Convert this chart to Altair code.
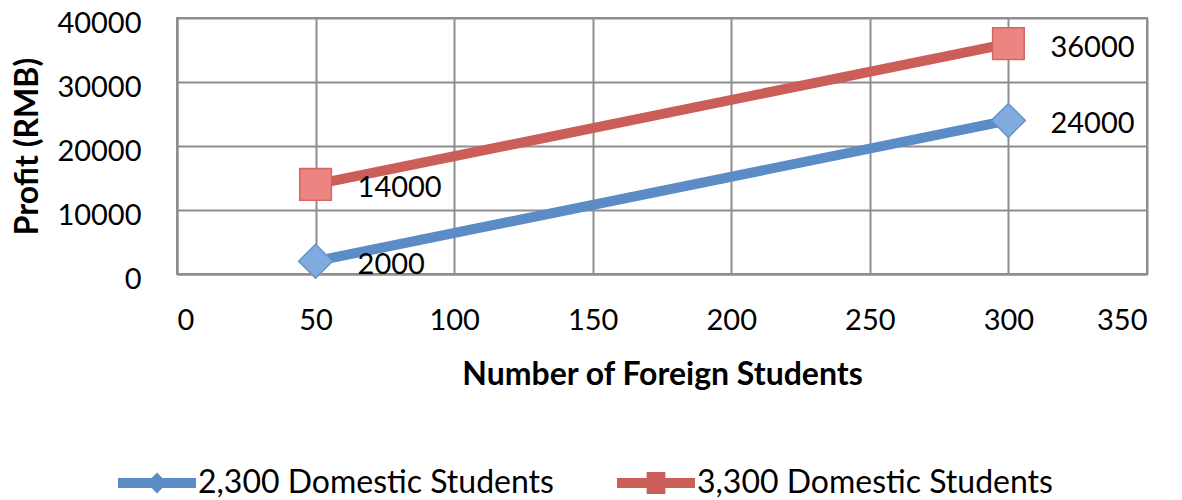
import altair as alt
import pandas as pd

# Profit for two intake sizes of domestic students
foreign_students = [50, 300]
profit_2300 = [2000, 24000]
profit_3300 = [14000, 36000]
series_names = ["2,300 Domestic Students", "3,300 Domestic Students"]

x_ticks = [0, 50, 100, 150, 200, 250, 300, 350]
y_ticks = [0, 10000, 20000, 30000, 40000]

line_colors = ["#5B8CC6", "#CC5E5A"]
marker_fills = ["#80ABDF", "#EC8582"]
marker_strokes = ["#6794CB", "#D56662"]
marker_shapes = ["diamond", "square"]
marker_sizes = [1150, 1000]

# legend symbols: a thick line segment with the series marker on it
legend_paths = [
    "M-1,-0.13H1V0.13H-1Z M0,-0.27L0.26,0L0,0.27L-0.26,0Z",
    "M-1,-0.13H1V0.13H-1Z M-0.24,-0.28H0.24V0.28H-0.24Z",
]

rows = []
for name, values in zip(series_names, [profit_2300, profit_3300]):
    for xv, yv in zip(foreign_students, values):
        rows.append({"Series": name, "Foreign": xv, "Profit": yv, "Label": str(yv)})
df = pd.DataFrame(rows)

FONT = "Lato"
GRID = "#8E8E8E"
TEXT_SIZE = 29
LEGEND_SIZE = 32
TITLE_SIZE = 32

x_enc = alt.X(
    "Foreign:Q",
    scale=alt.Scale(domain=[0, 350], nice=False, zero=False),
    axis=alt.Axis(
        values=x_ticks,
        title="Number of Foreign Students",
        titleFont=FONT,
        titleFontSize=TITLE_SIZE,
        titleFontWeight="bold",
        titleColor="black",
        titleY=100,
        titleBaseline="middle",
        labelFont=FONT,
        labelFontSize=TEXT_SIZE,
        labelColor="black",
        labelPadding=32,
        labelBaseline="top",
        ticks=False,
        domainColor=GRID,
        domainWidth=2,
        gridColor=GRID,
        gridWidth=2,
    ),
)
y_enc = alt.Y(
    "Profit:Q",
    scale=alt.Scale(domain=[0, 40000], nice=False),
    axis=alt.Axis(
        values=y_ticks,
        format="d",
        title="Profit (RMB)",
        titleFont=FONT,
        titleFontSize=TITLE_SIZE,
        titleFontWeight="bold",
        titleColor="black",
        titleAngle=-90,
        titleX=-150,
        titleBaseline="middle",
        labelFont=FONT,
        labelFontSize=TEXT_SIZE,
        labelColor="black",
        labelPadding=36,
        labelOffset=5,
        ticks=False,
        domainColor=GRID,
        domainWidth=2,
        gridColor=GRID,
        gridWidth=2,
    ),
)

base = alt.Chart(df).encode(x=x_enc, y=y_enc)

layers = []
for i, name in enumerate(series_names):
    layers.append(
        base.transform_filter(alt.datum.Series == name)
        .mark_line(color=line_colors[i], strokeWidth=10, strokeCap="butt")
    )
for i, name in enumerate(series_names):
    layers.append(
        base.transform_filter(alt.datum.Series == name).mark_point(
            shape=marker_shapes[i],
            size=marker_sizes[i],
            filled=True,
            fill=marker_fills[i],
            stroke=marker_strokes[i],
            strokeWidth=1.5,
            opacity=1,
        )
    )

labels = base.mark_text(
    align="left", baseline="middle", dx=42, dy=4, font=FONT, fontSize=TEXT_SIZE, color="black"
).encode(text="Label:N")

legend_def = alt.Legend(
    title=None,
    orient="none",
    legendX=-59,
    legendY=426,
    direction="horizontal",
    symbolSize=6084,
    symbolStrokeWidth=0,
    symbolOpacity=1,
    labelFont=FONT,
    labelFontSize=LEGEND_SIZE,
    labelColor="black",
    labelOffset=2,
    labelLimit=0,
    columnPadding=63,
)
legend_layer = base.mark_point(filled=True, opacity=0).encode(
    color=alt.Color(
        "Series:N", scale=alt.Scale(domain=series_names, range=line_colors), legend=legend_def
    ),
    shape=alt.Shape(
        "Series:N", scale=alt.Scale(domain=series_names, range=legend_paths), legend=legend_def
    ),
)

chart = (
    alt.layer(*layers, labels, legend_layer)
    .properties(
        width=970,
        height=256,
        autosize=alt.AutoSizeParams(type="none"),
        padding={"left": 177, "top": 18, "right": 35, "bottom": 226},
        background="white",
    )
    .configure_view(stroke=GRID, strokeWidth=2)
)

chart.save("out.html", embed_options={"renderer": "svg", "actions": False})
